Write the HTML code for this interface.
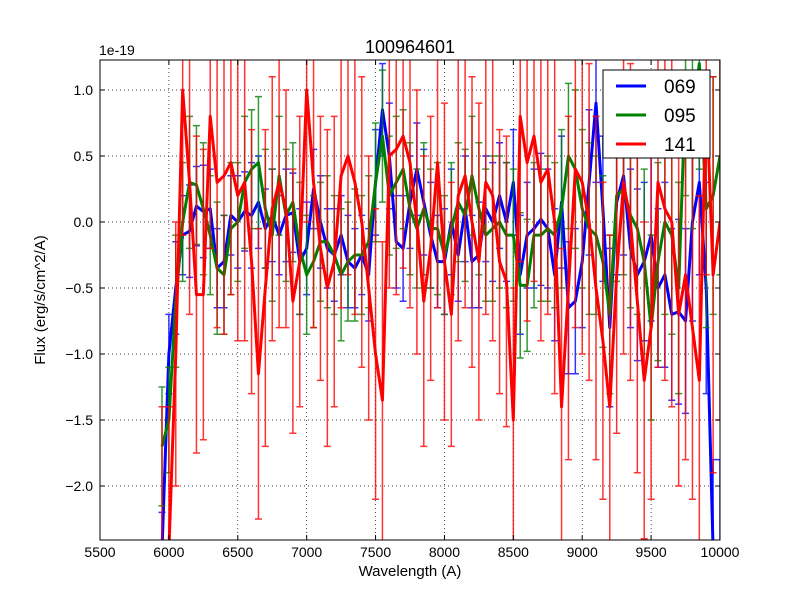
<!DOCTYPE html>
<html><head><meta charset="utf-8"><style>
html,body{margin:0;padding:0;background:#fff;overflow:hidden;width:800px;height:600px;}
svg{display:block;font-family:"Liberation Sans","DejaVu Sans",sans-serif;}
</style></head><body>
<svg id="c" width="800" height="600" xmlns="http://www.w3.org/2000/svg">
<rect width="800" height="600" fill="#fff"/>
<defs><clipPath id="clip"><rect x="100" y="60" width="620" height="480"/></clipPath></defs>
<g id="grid"></g>
<g id="series" clip-path="url(#clip)"></g>
<rect x="100" y="60" width="620" height="480" fill="none" stroke="#000" stroke-width="1"/>
<g id="ticks"></g>
<text x="410" y="53" font-size="18" text-anchor="middle">100964601</text>
<text x="99" y="55" font-size="14">1e-19</text>
<text x="410" y="576" font-size="15" text-anchor="middle">Wavelength (A)</text>
<text transform="translate(45,300) rotate(-90)" font-size="15" text-anchor="middle">Flux (erg/s/cm^2/A)</text>
<g id="legend">
<rect x="603" y="70" width="107" height="88" fill="#fff" stroke="#000"/>
</g>
</svg>
<script>
const wl = [5950,6000,6050,6100,6150,6200,6250,6300,6350,6400,6450,6500,6550,6600,6650,6700,6750,6800,6850,6900,6950,7000,7050,7100,7150,7200,7250,7300,7350,7400,7450,7500,7550,7600,7650,7700,7750,7800,7850,7900,7950,8000,8050,8100,8150,8200,8250,8300,8350,8400,8450,8500,8550,8600,8650,8700,8750,8800,8850,8900,8950,9000,9050,9100,9150,9200,9250,9300,9350,9400,9450,9500,9550,9600,9650,9700,9750,9800,9850,9900,9950,10000];
const s069 = [-2.6,-1.0,-0.5,-0.1,-0.07,0.12,0.08,0.1,-0.35,-0.3,0.05,0.0,0.08,0.05,0.15,-0.05,0.05,-0.1,0.05,0.07,-0.3,-0.2,0.25,0.0,-0.2,-0.25,-0.1,-0.3,-0.35,-0.25,-0.4,0.3,0.85,0.5,-0.15,-0.2,0.15,0.4,0.15,-0.1,-0.3,-0.3,0.0,-0.25,0.1,-0.3,-0.25,0.1,0.0,0.2,0.0,0.3,-0.4,-0.1,-0.05,0.02,-0.05,-0.4,0.15,-0.65,-0.6,-0.3,0.3,0.9,0.1,-0.8,0.15,0.35,-0.2,-0.4,-0.3,-0.1,-0.5,-0.4,-0.7,-0.68,-0.75,0.0,0.3,-0.5,-2.6,-2.6];
const e069 = [0.4,0.3,0.35,0.3,0.35,0.3,0.35,0.3,0.3,0.35,0.3,0.35,0.3,0.4,0.35,0.3,0.35,0.3,0.35,0.3,0.4,0.35,0.3,0.35,0.3,0.35,0.3,0.35,0.3,0.3,0.35,0.4,0.35,0.4,0.35,0.4,0.35,0.35,0.4,0.4,0.35,0.4,0.4,0.35,0.4,0.35,0.4,0.4,0.45,0.4,0.45,0.4,0.45,0.4,0.45,0.5,0.45,0.5,0.5,0.5,0.55,0.5,0.55,0.6,0.55,0.6,0.55,0.6,0.6,0.65,0.6,0.65,0.6,0.7,0.65,0.7,0.7,0.75,0.7,0.8,0.8,0.8];
const s095 = [-1.7,-1.5,-0.6,0.0,0.3,0.28,0.1,-0.1,-0.35,-0.4,-0.05,0.0,0.3,0.4,0.45,0.1,-0.1,0.35,0.05,0.15,-0.2,-0.4,-0.3,-0.15,-0.15,-0.25,-0.4,-0.3,-0.25,-0.25,-0.15,0.3,0.65,0.2,0.3,0.4,0.1,-0.05,0.1,-0.05,-0.05,-0.25,-0.05,0.15,0.05,0.35,0.1,-0.1,-0.05,0.0,-0.1,-0.1,-0.48,-0.48,-0.1,-0.1,-0.05,-0.1,0.1,0.5,0.4,0.1,-0.05,-0.1,-0.3,-0.7,0.2,0.25,0.05,-0.05,-0.3,-0.8,-0.3,0.0,-0.1,-0.5,1.0,0.8,1.2,0.1,0.2,0.5];
const e095 = [0.45,0.4,0.5,0.45,0.5,0.45,0.5,0.45,0.5,0.45,0.5,0.45,0.5,0.45,0.5,0.45,0.5,0.45,0.5,0.45,0.5,0.45,0.5,0.45,0.5,0.45,0.5,0.45,0.5,0.45,0.5,0.45,0.5,0.45,0.5,0.45,0.5,0.45,0.5,0.45,0.5,0.45,0.5,0.45,0.5,0.45,0.5,0.5,0.55,0.5,0.55,0.5,0.55,0.5,0.55,0.5,0.55,0.55,0.6,0.55,0.6,0.6,0.65,0.6,0.65,0.6,0.65,0.65,0.7,0.65,0.7,0.7,0.75,0.7,0.75,0.8,0.8,0.85,0.8,0.9,0.9,0.9];
const s141 = [-2.6,-2.5,-1.0,1.0,0.3,-0.55,-0.55,0.8,0.3,0.35,0.45,0.2,0.3,-0.3,-1.15,-0.5,0.1,0.3,0.1,-0.6,-0.3,1.0,0.3,-0.2,-0.5,-0.3,0.35,0.5,0.3,0.0,-0.5,-1.0,-1.35,0.5,0.55,0.65,0.45,0.0,-0.6,-0.2,0.45,-0.3,-0.7,0.2,0.35,0.0,-0.3,0.3,0.2,-0.3,-0.45,-1.5,0.8,0.45,0.65,0.3,0.4,0.0,-1.4,-0.5,0.4,0.3,0.0,-0.5,-0.9,-1.4,-0.4,0.3,0.0,-0.6,-1.2,-0.8,0.3,0.1,0.0,-0.7,-0.4,-0.8,-1.2,1.0,-0.4,0.0];
const e141 = [1.2,1.1,1.0,1.1,1.0,1.2,1.1,1.0,1.1,1.2,1.0,1.1,1.2,1.0,1.1,1.2,1.0,1.1,0.9,1.0,1.1,1.0,1.1,1.0,1.2,1.1,1.0,0.9,1.0,1.1,1.0,1.1,1.2,1.0,1.1,1.0,1.1,1.0,1.1,1.0,1.1,1.2,1.0,1.1,1.0,1.1,1.2,1.0,1.1,1.0,1.1,1.0,1.1,1.2,1.1,1.2,1.1,1.3,1.2,1.3,1.2,1.3,1.2,1.3,1.2,1.3,1.2,1.3,1.2,1.3,1.2,1.3,1.4,1.3,1.4,1.3,1.4,1.3,1.4,1.4,1.5,1.5];
const xTicks = [5500,6000,6500,7000,7500,8000,8500,9000,9500,10000];
const yTicks = [-2.0,-1.5,-1.0,-0.5,0.0,0.5,1.0];
const yTickLabels = ["\u22122.0","\u22121.5","\u22121.0","\u22120.5","0.0","0.5","1.0"];
const seriesNames = ["069","095","141"];

const NS="http://www.w3.org/2000/svg";
const X0=100,X1=720,Y0=540,Y1=60,XMIN=5500,XMAX=10000,YMIN=-2.409,YMAX=1.227;
function xs(v){return X0+(v-XMIN)/(XMAX-XMIN)*(X1-X0);}
function ys(v){return Y0-(v-YMIN)/(YMAX-YMIN)*(Y0-Y1);}
function cl(y){return Math.max(50,Math.min(550,y));}
function mk(tag,attrs,parent){const e=document.createElementNS(NS,tag);for(const k in attrs)e.setAttribute(k,attrs[k]);parent.appendChild(e);return e;}
const grid=document.getElementById('grid'),ticks=document.getElementById('ticks'),ser=document.getElementById('series');
xTicks.forEach((t,i)=>{const x=xs(t);
 const g=mk('line',{x1:x,x2:x,y1:60,y2:540,stroke:'#000','stroke-width':0.7,'stroke-dasharray':'1,3'},grid);
 
 
 mk('line',{x1:x,x2:x,y1:540,y2:535,stroke:'#000'},ticks);
 mk('line',{x1:x,x2:x,y1:60,y2:65,stroke:'#000'},ticks);
 const l=mk('text',{x:x,y:557,'font-size':14,'text-anchor':'middle'},ticks);l.textContent=t;
 
 
});
yTicks.forEach((t,i)=>{const y=ys(t);
 const g=mk('line',{x1:100,x2:720,y1:y,y2:y,stroke:'#000','stroke-width':0.7,'stroke-dasharray':'1,3'},grid);
 
 
 mk('line',{x1:100,x2:105,y1:y,y2:y,stroke:'#000'},ticks);
 mk('line',{x1:715,x2:720,y1:y,y2:y,stroke:'#000'},ticks);
 const l=mk('text',{x:93,y:y+5,'font-size':14,'text-anchor':'end'},ticks);l.textContent=yTickLabels[i];
 
 
});
function drawSeries(vals,errs,color,name){
 const g=mk('g',{},ser);
 
 
 vals.forEach((v,i)=>{const x=xs(wl[i]),a=cl(ys(v+errs[i])),b=cl(ys(v-errs[i]));
  const eb=mk('path',{d:`M${x},${a}V${b}M${x-3.5},${a}H${x+3.5}M${x-3.5},${b}H${x+3.5}`,stroke:color,'stroke-width':1.5,fill:'none',opacity:0.8},g);
  
  
 });
 const d=vals.map((v,i)=>(i?'L':'M')+xs(wl[i])+','+cl(ys(v))).join('');
 const p=mk('path',{d:d,stroke:color,'stroke-width':3,fill:'none','stroke-linejoin':'round'},g);
 
 
}
drawSeries(s069,e069,'#0000ff','069');
drawSeries(s095,e095,'#008000','095');
drawSeries(s141,e141,'#ff0000','141');
const leg=document.getElementById('legend');
const cols=['#0000ff','#008000','#ff0000'];
seriesNames.forEach((n,i)=>{const y=86+i*29;
 const ln=mk('line',{x1:616,x2:646,y1:y,y2:y,stroke:cols[i],'stroke-width':3},leg);
 
 
 const t=mk('text',{x:664,y:y+7,'font-size':19},leg);t.textContent=n;
 
 
});
</script>
</body></html>
